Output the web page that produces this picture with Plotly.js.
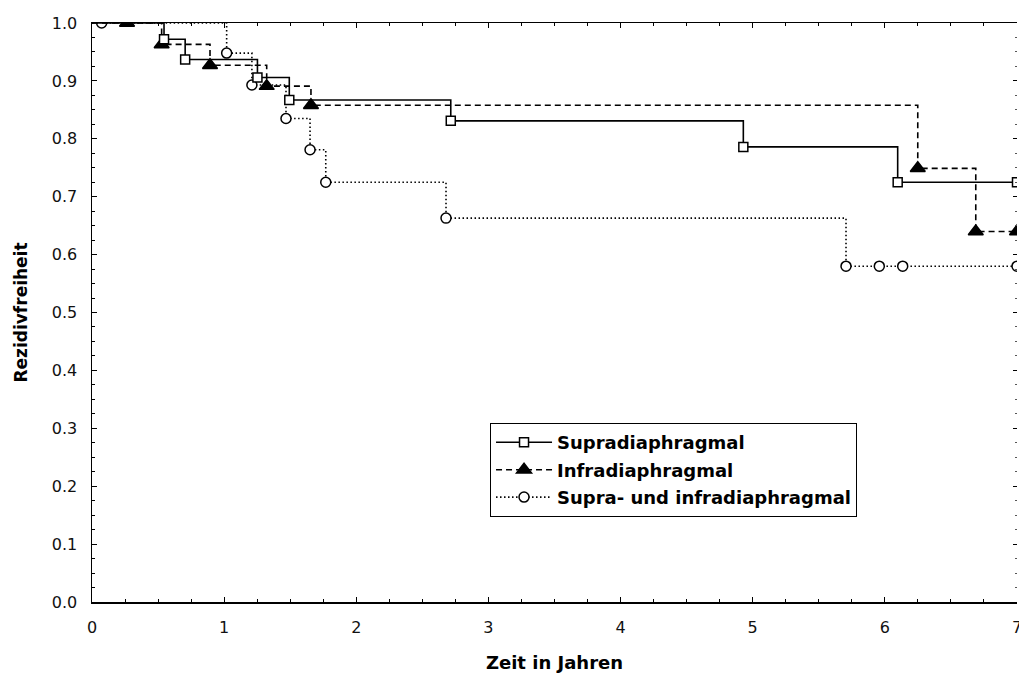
<!DOCTYPE html>
<html>
<head>
<meta charset="utf-8">
<script src="https://cdn.plot.ly/plotly-3.0.1.min.js"></script>
<style>
  html, body { margin: 0; padding: 0; background: #ffffff; }
  #chart { width: 1019px; height: 673px; }
</style>
</head>
<body>
<div id="chart"></div>
<script>
// Kaplan-Meier estimates of relapse-free survival by localisation
const seriesNames = ["Supradiaphragmal", "Infradiaphragmal", "Supra- und infradiaphragmal"];

// Supradiaphragmal: time (years) and survival at each marked observation
const supraTime = [0.545, 0.705, 1.252, 1.493, 2.715, 4.929, 6.097, 7.0];
const supraSurv = [0.972, 0.937, 0.906, 0.867, 0.831, 0.786, 0.725, 0.725];

// Infradiaphragmal
const infraTime = [0.265, 0.527, 0.893, 1.322, 1.657, 6.249, 6.688, 7.0];
const infraSurv = [1.0, 0.963, 0.927, 0.891, 0.858, 0.749, 0.640, 0.640];

// Supra- und infradiaphragmal
const bothTime = [0.073, 1.019, 1.21, 1.468, 1.650, 1.769, 2.679, 5.706, 5.958, 6.135, 7.0];
const bothSurv = [1.0, 0.948, 0.893, 0.835, 0.781, 0.725, 0.663, 0.580, 0.580, 0.580, 0.580];

// Axis tick values
const xTicks = [0, 1, 2, 3, 4, 5, 6, 7];
const yTicks = [0.0, 0.1, 0.2, 0.3, 0.4, 0.5, 0.6, 0.7, 0.8, 0.9, 1.0];

const styles = [
  { dash: "solid", symbol: "square", size: 9, fill: "#ffffff" },
  { dash: "6px,4px", symbol: "triangle-up", size: 13, fill: "#000000" },
  { dash: "1.5px,2.5px", symbol: "circle", size: 10, fill: "#ffffff" }
];

function kmTraces(times, surv, name, st, group, rank) {
  // Lead-in from the start (t=0, S=1) to the first marked observation
  const lead = {
    x: [0, times[0]], y: [1, surv[0]],
    type: "scatter", mode: "lines",
    line: { shape: "hv", color: "#000", width: 1.6, dash: st.dash },
    showlegend: false, hoverinfo: "skip", legendgroup: group
  };
  const main = {
    x: times, y: surv, name: name,
    type: "scatter", mode: "lines+markers",
    line: { shape: "hv", color: "#000", width: 1.6, dash: st.dash },
    marker: { symbol: st.symbol, size: st.size, color: st.fill,
              line: { color: "#000", width: 1.5 } },
    legendgroup: group, legendrank: rank
  };
  return [lead, main];
}

const data = [].concat(
  kmTraces(bothTime, bothSurv, seriesNames[2], styles[2], "c", 3),
  kmTraces(infraTime, infraSurv, seriesNames[1], styles[1], "b", 2),
  kmTraces(supraTime, supraSurv, seriesNames[0], styles[0], "a", 1)
);

const tickFont = { family: "DejaVu Sans", size: 16, color: "#111" };
const titleFont = { family: "DejaVu Sans", size: 18, color: "#000", weight: "bold" };

const layout = {
  width: 1019, height: 673,
  margin: { l: 92, r: 2, t: 23, b: 71 },
  paper_bgcolor: "#ffffff", plot_bgcolor: "#ffffff",
  showlegend: true,
  legend: {
    x: 0.4303, y: 0.309, xanchor: "left", yanchor: "top",
    bgcolor: "#ffffff", bordercolor: "#000", borderwidth: 1,
    font: { family: "DejaVu Sans", size: 18, color: "#000", weight: "bold" },
    traceorder: "grouped", tracegroupgap: 1, itemwidth: 56
  },
  xaxis: {
    range: [0, 7], tickvals: xTicks, ticktext: xTicks.map(String),
    ticks: "inside", ticklen: 5, tickcolor: "#000", tickwidth: 1,
    minor: { dtick: 0.25, ticks: "inside", ticklen: 3, tickcolor: "#000" },
    showline: true, linecolor: "#000", linewidth: 1.5, mirror: "ticks",
    showgrid: false, zeroline: false,
    tickfont: tickFont, ticklabelstandoff: 10, ticklabeloverflow: "allow",
    title: { text: "Zeit in Jahren", font: titleFont, standoff: 22 }
  },
  yaxis: {
    range: [0, 1], tickvals: yTicks, ticktext: yTicks.map(v => v.toFixed(1)),
    ticks: "inside", ticklen: 5, tickcolor: "#000", tickwidth: 1,
    minor: { dtick: 0.025, ticks: "inside", ticklen: 3, tickcolor: "#000" },
    showline: true, linecolor: "#000", linewidth: 1.5,
    showgrid: false, zeroline: false,
    tickfont: tickFont, ticklabelstandoff: 10,
    title: { text: "Rezidivfreiheit", font: { family: "DejaVu Sans", size: 17, color: "#000", weight: "bold" }, standoff: 20 }
  },
  // right-hand tick marks without an axis line
  yaxis2: {
    overlaying: "y", side: "right", range: [0, 1],
    tickvals: yTicks, showticklabels: false,
    ticks: "inside", ticklen: 4, tickcolor: "#000",
    minor: { dtick: 0.025, ticks: "inside", ticklen: 2, tickcolor: "#555" },
    showline: false, showgrid: false, zeroline: false
  }
};

// an invisible trace keeps the right-hand axis active
data.push({ x: [null], y: [null], yaxis: "y2", type: "scatter", mode: "lines", showlegend: false, hoverinfo: "skip" });

Plotly.newPlot("chart", data, layout, { displayModeBar: false, staticPlot: true });
</script>
</body>
</html>
